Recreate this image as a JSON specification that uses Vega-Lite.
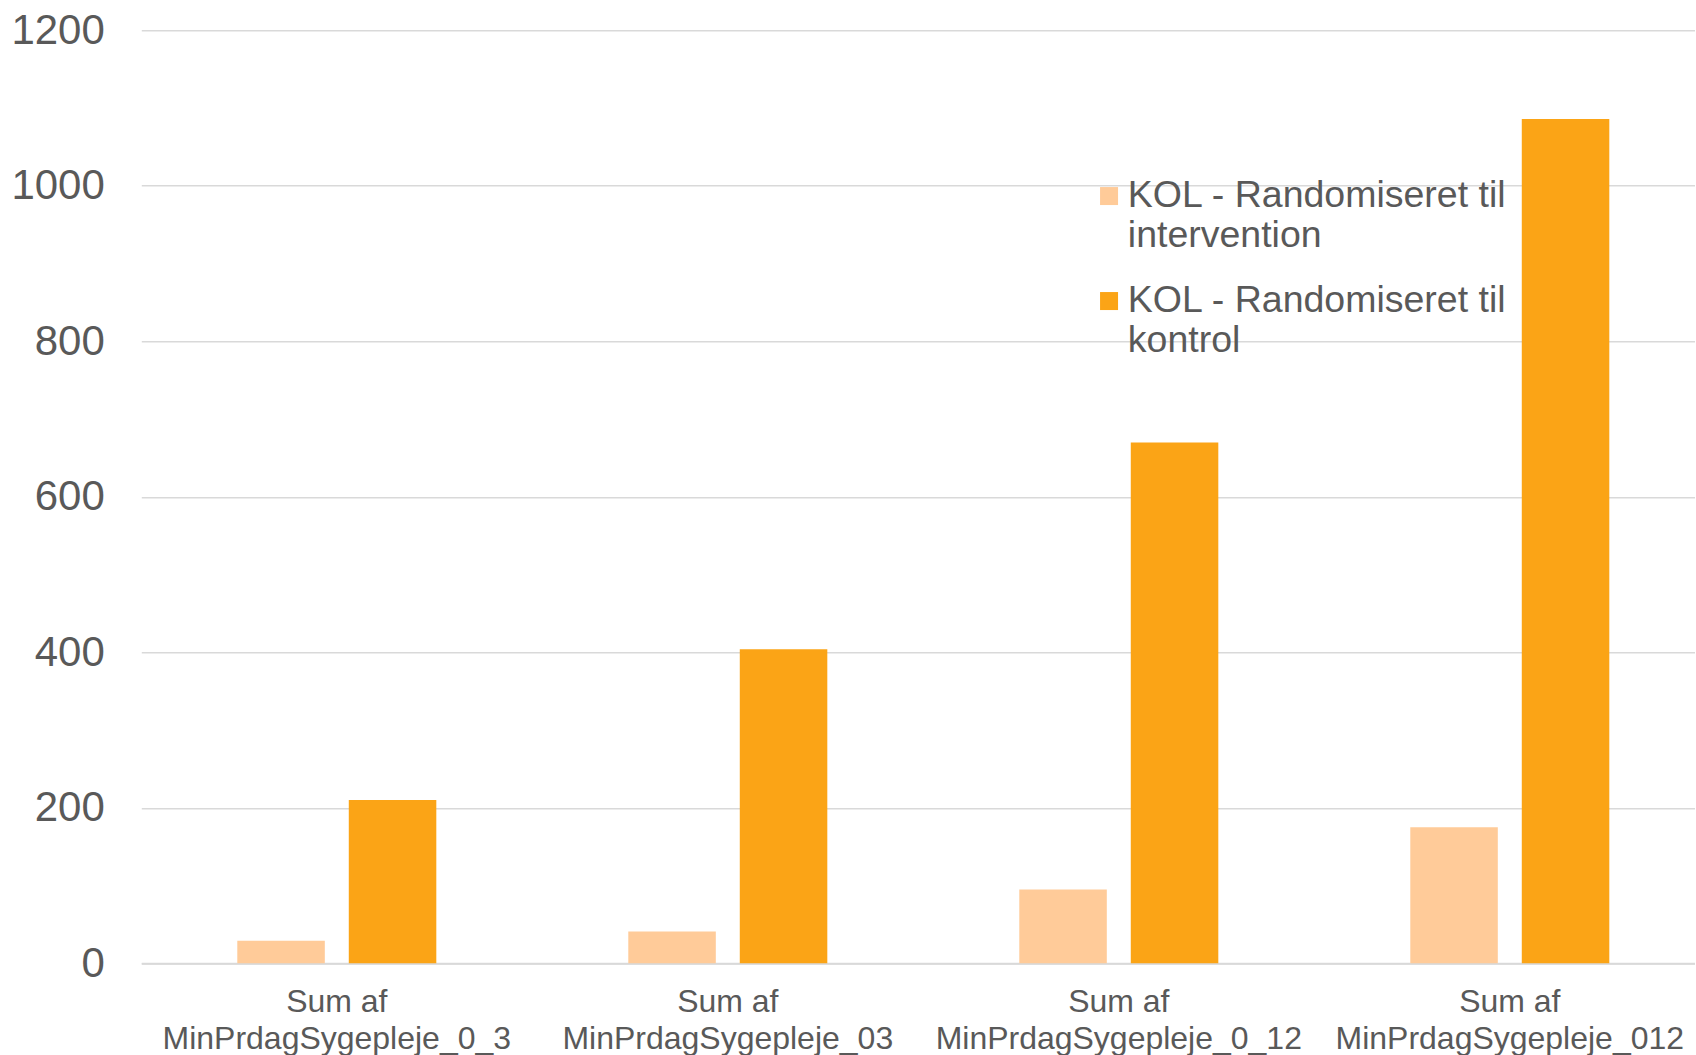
{
  "$schema": "https://vega.github.io/schema/vega-lite/v6.json",
  "width": 1554,
  "height": 933,
  "autosize": "none",
  "padding": {"left": 141.3, "top": 30.3, "right": 0, "bottom": 91.7},
  "background": "white",
  "config": {
    "font": "Liberation Sans",
    "view": {"stroke": null}
  },
  "data": {
    "values": [
      {"kategori": "Sum af MinPrdagSygepleje_0_3", "gruppe": "KOL - Randomiseret til intervention", "vaerdi": 29},
      {"kategori": "Sum af MinPrdagSygepleje_0_3", "gruppe": "KOL - Randomiseret til kontrol", "vaerdi": 210},
      {"kategori": "Sum af MinPrdagSygepleje_03", "gruppe": "KOL - Randomiseret til intervention", "vaerdi": 41},
      {"kategori": "Sum af MinPrdagSygepleje_03", "gruppe": "KOL - Randomiseret til kontrol", "vaerdi": 404},
      {"kategori": "Sum af MinPrdagSygepleje_0_12", "gruppe": "KOL - Randomiseret til intervention", "vaerdi": 95},
      {"kategori": "Sum af MinPrdagSygepleje_0_12", "gruppe": "KOL - Randomiseret til kontrol", "vaerdi": 670},
      {"kategori": "Sum af MinPrdagSygepleje_012", "gruppe": "KOL - Randomiseret til intervention", "vaerdi": 175},
      {"kategori": "Sum af MinPrdagSygepleje_012", "gruppe": "KOL - Randomiseret til kontrol", "vaerdi": 1086}
    ]
  },
  "mark": {"type": "bar"},
  "encoding": {
    "x": {
      "field": "kategori",
      "type": "nominal",
      "sort": null,
      "scale": {"range": [0, 1564], "paddingInner": 0.491, "paddingOuter": 0.2455},
      "axis": {
        "title": null,
        "labelAngle": 0,
        "ticks": false,
        "domain": true,
        "domainColor": "#D9D9D9",
        "domainWidth": 2,
        "labelFontSize": 32,
        "labelColor": "#595959",
        "labelPadding": 23,
        "labelLineHeight": 37,
        "labelLimit": 0,
        "labelExpr": "['Sum af', substring(datum.label, 7)]"
      }
    },
    "xOffset": {
      "field": "gruppe",
      "type": "nominal",
      "scale": {"paddingInner": 0.215, "paddingOuter": 0}
    },
    "y": {
      "field": "vaerdi",
      "type": "quantitative",
      "scale": {"domain": [0, 1200], "nice": false},
      "axis": {
        "title": null,
        "values": [0, 200, 400, 600, 800, 1000, 1200],
        "format": "d",
        "domain": false,
        "ticks": false,
        "grid": true,
        "gridColor": "#D9D9D9",
        "gridWidth": 1.5,
        "labelFontSize": 42,
        "labelColor": "#595959",
        "labelPadding": 37
      }
    },
    "color": {
      "field": "gruppe",
      "type": "nominal",
      "scale": {
        "domain": ["KOL - Randomiseret til intervention", "KOL - Randomiseret til kontrol"],
        "range": ["#FFCB99", "#FBA416"]
      },
      "legend": {
        "title": null,
        "orient": "none",
        "legendX": 949,
        "legendY": 147,
        "symbolType": "square",
        "symbolSize": 324,
        "symbolStrokeWidth": 0,
        "labelFontSize": 37.5,
        "labelColor": "#595959",
        "labelLimit": 0,
        "labelOffset": 0,
        "labelLineHeight": 46,
        "rowPadding": 27,
        "labelExpr": "['KOL - Randomiseret til', substring(datum.label, 23)]"
      }
    }
  }
}
